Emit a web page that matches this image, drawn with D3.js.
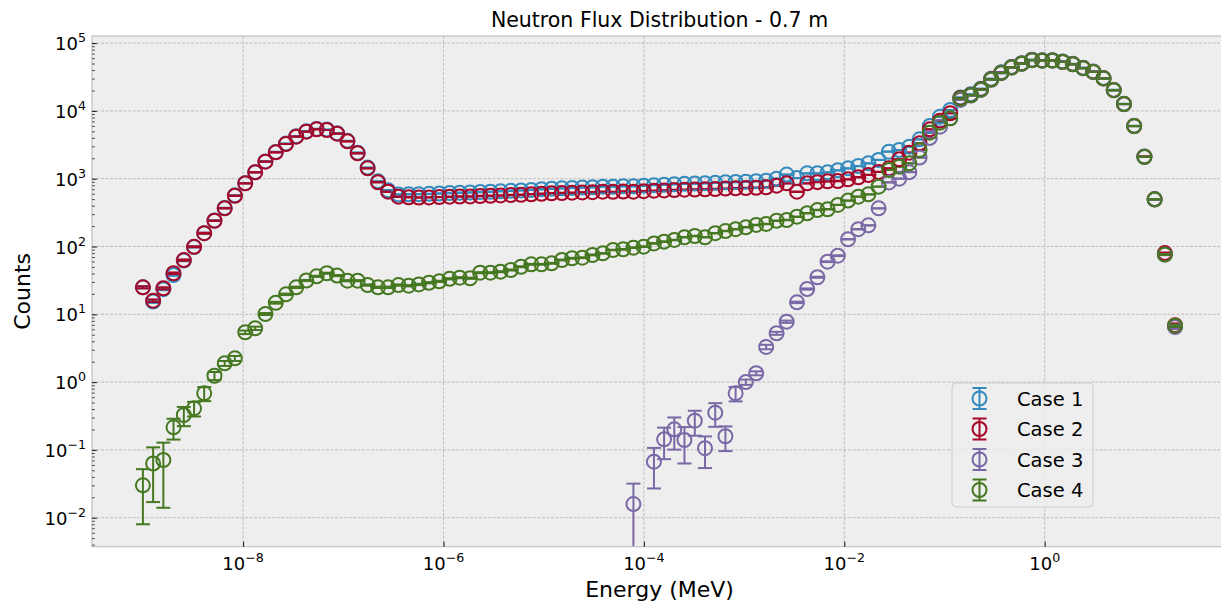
<!DOCTYPE html>
<html><head><meta charset="utf-8">
<script src="https://cdn.jsdelivr.net/npm/d3@7"></script>
<style>body{margin:0;background:#fff;} svg{display:block;font-family:"DejaVu Sans",sans-serif;}</style>
</head><body><svg id="c" width="1221" height="601"></svg>
<script>
// ---------- DATA ----------
const energies = [
1.00e-9,1.265e-9,1.60e-9,2.02e-9,2.56e-9,3.24e-9,4.09e-9,5.18e-9,6.55e-9,8.28e-9,
1.05e-8,1.32e-8,1.67e-8,2.12e-8,2.68e-8,3.39e-8,4.28e-8,5.42e-8,6.85e-8,8.67e-8,
1.10e-7,1.39e-7,1.75e-7,2.22e-7,2.80e-7,3.55e-7,4.49e-7,5.67e-7,7.17e-7,9.07e-7,
1.15e-6,1.45e-6,1.84e-6,2.32e-6,2.94e-6,3.71e-6,4.70e-6,5.94e-6,7.51e-6,9.50e-6,
1.20e-5,1.52e-5,1.92e-5,2.43e-5,3.07e-5,3.89e-5,4.92e-5,6.22e-5,7.86e-5,9.94e-5,
1.26e-4,1.59e-4,2.01e-4,2.54e-4,3.22e-4,4.07e-4,5.15e-4,6.51e-4,8.23e-4,1.04e-3,
1.32e-3,1.66e-3,2.11e-3,2.66e-3,3.37e-3,4.26e-3,5.39e-3,6.81e-3,8.62e-3,1.09e-2,
1.38e-2,1.74e-2,2.20e-2,2.79e-2,3.53e-2,4.46e-2,5.64e-2,7.13e-2,9.02e-2,0.114,
0.144,0.183,0.231,0.292,0.369,0.467,0.590,0.747,0.944,1.194,
1.510,1.910,2.416,3.055,3.864,4.888,6.181,7.818,9.888,12.51,
15.82,20.0];

const case1 = [
25,15.4,23.5,38,62,98,157,242,370,568,
860,1250,1800,2480,3300,4230,5000,5420,5300,4680,
3620,2420,1460,915,675,585,590,592,598,605,
615,620,626,636,642,652,663,672,684,698,
712,720,732,740,748,764,763,775,772,788,
803,815,828,840,848,858,868,884,895,905,
918,935,1000,1150,1020,1200,1200,1240,1330,1423,
1538,1686,1888,2500,2650,2965,3810,5990,8200,10300,
15800,17600,21200,29800,37000,44500,50500,57000,56000,56000,
53500,49400,43300,38000,30500,20400,12700,6020,2120,500,
78,6.7];

const case2 = [
25,15.9,24.2,40.3,63,99,157,240,366,561,
855,1242,1782,2450,3250,4170,4940,5350,5230,4610,
3560,2370,1423,885,643,543,532,528,530,535,
543,545,548,556,560,566,575,580,590,600,
610,615,622,628,632,643,640,648,643,655,
665,672,681,688,692,698,705,715,722,728,
735,746,790,855,643,855,890,915,925,980,
1050,1135,1260,1423,1930,2417,3325,5350,7170,9220,
15500,17200,20800,29300,36600,44000,50000,56500,55500,55500,
53000,49000,43000,37800,30300,20300,12650,5990,2110,497,
80,6.9];

const case3 = [
null,null,null,null,null,null,null,null,null,null,
null,null,null,null,null,null,null,null,null,null,
null,null,null,null,null,null,null,null,null,null,
null,null,null,null,null,null,null,null,null,null,
null,null,null,null,null,null,null,null,0.0159,null,
0.067,0.143,0.201,0.140,0.270,0.106,0.354,0.159,0.684,1.00,
1.35,3.30,5.25,7.78,15.0,23.6,35.2,59.7,73.2,128,
180,205,366,880,1000,1250,2050,4000,5850,7780,
14500,16800,20400,28800,36000,43500,49500,55800,55000,55000,
52600,48600,42500,37400,30000,20100,12550,5950,2090,492,
76,6.5];

const case4 = [
0.030,0.063,0.071,0.215,0.327,0.411,0.684,1.24,1.89,2.24,
5.43,6.22,10.1,14.8,19.7,25.0,31.5,36.3,40.3,37.3,
31.3,31.3,27.0,25.0,25.0,27.0,26.4,27.6,29.2,30.6,
33.4,34.7,34.0,41.1,41.1,42.5,45.0,50.3,54.6,54.6,
56.5,63.2,67.0,68.4,75.0,79.4,88.8,91.0,96.0,99.4,
111,118,125,137,143,137,157,169,180,192,
208,215,240,246,275,309,345,354,410,475,
543,589,762,1343,1503,1686,2650,4770,6700,7780,
15200,17000,20600,29000,36300,43700,49800,56000,55000,55300,
52800,48800,42700,37600,30100,20200,12600,5970,2100,495,
76,6.8];

const case1Err = [
0.9,0.7,0.85,1.1,1.4,1.7,2.2,2.7,3.3,4.1,
5.1,6.1,7.3,8.6,9.9,11,12,13,12.5,12,
10,8.4,6.5,5.2,4.4,4.2,4.2,4.2,4.2,4.3,
4.3,4.3,4.3,4.4,4.4,4.4,4.5,4.5,4.5,4.6,
4.6,4.6,4.7,4.7,4.7,4.8,4.8,4.8,4.8,4.9,
4.9,4.9,5.0,5.0,5.0,5.1,5.1,5.1,5.2,5.2,
5.2,5.3,5.5,5.9,5.5,6.0,6.0,6.1,6.3,6.5,
6.8,7.1,7.5,8.7,8.9,9.4,10.7,13.4,15.7,17.6,
22,23,25,30,33,36,39,41,41,41,
40,38,36,34,30,25,19,13,8,3.9,
1.5,0.45];

const case2Err = [
0.9,0.7,0.85,1.1,1.4,1.7,2.2,2.7,3.3,4.1,
5.1,6.1,7.3,8.6,9.9,11,12,13,12.5,12,
10,8.4,6.5,5.2,4.4,4.0,4.0,4.0,4.0,4.0,
4.0,4.0,4.1,4.1,4.1,4.1,4.2,4.2,4.2,4.2,
4.3,4.3,4.3,4.3,4.4,4.4,4.4,4.4,4.4,4.4,
4.5,4.5,4.5,4.5,4.6,4.6,4.6,4.6,4.7,4.7,
4.7,4.7,4.9,5.1,4.4,5.1,5.2,5.2,5.3,5.4,
5.6,5.8,6.1,6.5,7.6,8.5,10,13,15,17,
22,23,25,30,33,36,39,41,41,41,
40,38,36,34,30,25,19,13,8,3.9,
1.5,0.45];

const case3Err = [
null,null,null,null,null,null,null,null,null,null,
null,null,null,null,null,null,null,null,null,null,
null,null,null,null,null,null,null,null,null,null,
null,null,null,null,null,null,null,null,null,null,
null,null,null,null,null,null,null,null,0.0159,null,
0.040,0.07,0.10,0.077,0.108,0.052,0.135,0.063,0.165,0.09,
0.09,0.25,0.27,0.30,0.38,0.5,0.6,0.8,0.9,1.2,
1.4,1.5,2.0,3.1,3.3,3.7,4.7,6.6,8.0,9.2,
20,22,24,28,32,36,38,40,40,40,
39,37,35,33,29,24,19,13,8,3.9,
1.5,0.45];

const case4Err = [
0.022,0.046,0.057,0.073,0.103,0.10,0.16,0.17,0.16,0.19,
0.32,0.35,0.34,0.45,0.5,0.6,0.65,0.7,0.75,0.72,
0.65,0.65,0.6,0.58,0.58,0.6,0.6,0.6,0.62,0.64,
0.67,0.68,0.68,0.74,0.74,0.75,0.78,0.82,0.85,0.85,
0.87,0.92,0.95,0.96,1.0,1.03,1.1,1.1,1.13,1.15,
1.2,1.25,1.28,1.35,1.38,1.35,1.45,1.5,1.55,1.6,
1.65,1.7,1.8,1.8,1.9,2.0,2.1,2.2,2.3,2.5,
2.7,2.8,3.2,4.2,4.5,4.7,6,8.0,9.5,10.3,
14,15.2,16.5,19.5,22,24,26,27,27,27,
26.5,25,23,22,20,16,12,8,5,2.6,
1.0,0.3];

const seriesNames = ["Case 1","Case 2","Case 3","Case 4"];
const xTickValues = [1e-8,1e-6,1e-4,1e-2,1];
const xTickExponents = ["\u22128","\u22126","\u22124","\u22122","0"];
const yTickValues = [1e-2,1e-1,1,10,100,1000,1e4,1e5];
const yTickExponents = ["\u22122","\u22121","0","1","2","3","4","5"];
const titleText = "Neutron Flux Distribution - 0.7 m";
const xLabelText = "Energy (MeV)";
const yLabelText = "Counts";

// ---------- STYLE / LAYOUT ----------
const colors = ["#348ABD","#A60628","#7A68A6","#467821"];
const W = 1221, H = 601;
const L = 92, R = 1221, T = 36, B = 546.7;
const svg = d3.select("#c");

const x = d3.scaleLog().domain([Math.pow(10,-9.508), Math.pow(10,1.7595)]).range([L, R]);
const y = d3.scaleLog().domain([Math.pow(10,-2.4277), Math.pow(10,5.1047)]).range([B, T]);

// background
svg.append("rect").attr("x",0).attr("y",0).attr("width",W).attr("height",H).attr("fill","#ffffff");
svg.append("rect").attr("x",L).attr("y",T).attr("width",R-L+10).attr("height",B-T).attr("fill","#eeeeee");

svg.append("clipPath").attr("id","clip").append("rect").attr("x",L).attr("y",T).attr("width",R-L+10).attr("height",B-T);

// grid
const grid = svg.append("g");
grid.selectAll("line.gx").data(xTickValues).join("line")
  .attr("x1",d=>x(d)).attr("x2",d=>x(d)).attr("y1",T).attr("y2",B)
  .attr("stroke","#b2b2b2").attr("stroke-width",0.8).attr("stroke-dasharray","3,1.5");
grid.selectAll("line.gy").data(yTickValues).join("line")
  .attr("x1",L).attr("x2",R+10).attr("y1",d=>y(d)).attr("y2",d=>y(d))
  .attr("stroke","#b2b2b2").attr("stroke-width",0.8).attr("stroke-dasharray","3,1.5");

// data
const series = seriesNames.map((n,k)=>({name:n, color:colors[k],
  values:[case1,case2,case3,case4][k], errors:[case1Err,case2Err,case3Err,case4Err][k]}));

const plot = svg.append("g").attr("clip-path","url(#clip)");
const capW = 7;
series.forEach(s=>{
  const pts = energies.map((e,i)=>({e, v:s.values[i], err:s.errors[i]})).filter(d=>d.v!=null);
  const g = plot.append("g");
  g.selectAll("line.bar").data(pts).join("line")
    .attr("x1",d=>x(d.e)).attr("x2",d=>x(d.e))
    .attr("y1",d=> d.v-d.err>0 ? y(d.v-d.err) : B+10)
    .attr("y2",d=>y(d.v+d.err))
    .attr("stroke",s.color).attr("stroke-width",2);
  g.selectAll("line.capu").data(pts).join("line")
    .attr("x1",d=>x(d.e)-capW).attr("x2",d=>x(d.e)+capW)
    .attr("y1",d=>y(d.v+d.err)).attr("y2",d=>y(d.v+d.err))
    .attr("stroke",s.color).attr("stroke-width",2);
  g.selectAll("line.capl").data(pts.filter(d=>d.v-d.err>0)).join("line")
    .attr("x1",d=>x(d.e)-capW).attr("x2",d=>x(d.e)+capW)
    .attr("y1",d=>y(d.v-d.err)).attr("y2",d=>y(d.v-d.err))
    .attr("stroke",s.color).attr("stroke-width",2);
});
series.forEach(s=>{
  const pts = energies.map((e,i)=>({e, v:s.values[i]})).filter(d=>d.v!=null);
  plot.append("g").selectAll("circle").data(pts).join("circle")
    .attr("cx",d=>x(d.e)).attr("cy",d=>y(d.v)).attr("r",7)
    .attr("fill","none").attr("stroke",s.color).attr("stroke-width",2);
});

// frame
svg.append("rect").attr("x",L).attr("y",T).attr("width",R-L+10).attr("height",B-T)
  .attr("fill","none").attr("stroke","#bcbcbc").attr("stroke-width",1.1);

// axes ticks (inward)
const xAxisG = svg.append("g").attr("transform",`translate(0,${B})`)
  .call(d3.axisBottom(x).tickValues(xTickValues).tickSizeInner(-4.9).tickSizeOuter(0).tickFormat(""));
xAxisG.select(".domain").remove();
xAxisG.selectAll(".tick line").attr("stroke","#222").attr("stroke-width",1.1);

const yMinor = y.ticks().filter(v=>!yTickValues.some(t=>Math.abs(Math.log10(t)-Math.log10(v))<1e-6));
const yAxisMinor = svg.append("g").attr("transform",`translate(${L},0)`)
  .call(d3.axisLeft(y).tickValues(yMinor).tickSizeInner(-2.8).tickSizeOuter(0).tickFormat(""));
yAxisMinor.select(".domain").remove();
yAxisMinor.selectAll(".tick line").attr("stroke","#222").attr("stroke-width",0.8);
const yAxisG = svg.append("g").attr("transform",`translate(${L},0)`)
  .call(d3.axisLeft(y).tickValues(yTickValues).tickSizeInner(-4.9).tickSizeOuter(0).tickFormat(""));
yAxisG.select(".domain").remove();
yAxisG.selectAll(".tick line").attr("stroke","#222").attr("stroke-width",1.1);

// tick labels
const fs = 18;
xTickValues.forEach((v,i)=>{
  const t = svg.append("text").attr("x",x(v)).attr("y",570).attr("text-anchor","middle")
    .attr("font-size",fs).attr("fill","#000");
  t.append("tspan").text("10");
  t.append("tspan").attr("dy",-8).attr("font-size",fs*0.7).text(xTickExponents[i]);
});
yTickValues.forEach((v,i)=>{
  const t = svg.append("text").attr("x",86).attr("y",y(v)+7).attr("text-anchor","end")
    .attr("font-size",fs).attr("fill","#000");
  t.append("tspan").text("10");
  t.append("tspan").attr("dy",-8).attr("font-size",fs*0.7).text(yTickExponents[i]);
});

// titles
svg.append("text").attr("x",(L+1227)/2).attr("y",27).attr("text-anchor","middle")
  .attr("font-size",20.5).attr("fill","#000").text(titleText);
svg.append("text").attr("x",(L+1227)/2).attr("y",597).attr("text-anchor","middle")
  .attr("font-size",22).attr("fill","#000").text(xLabelText);
svg.append("text").attr("transform",`translate(30,${(T+B)/2}) rotate(-90)`).attr("text-anchor","middle")
  .attr("font-size",22).attr("fill","#000").text(yLabelText);

// legend
const lg = svg.append("g");
lg.append("rect").attr("x",952).attr("y",383).attr("width",141).attr("height",124).attr("rx",4)
  .attr("fill","#eeeeee").attr("fill-opacity",0.8).attr("stroke","#cccccc").attr("stroke-width",1);
series.forEach((s,k)=>{
  const cy = 398.5 + k*30.5, cx = 979.5;
  lg.append("line").attr("x1",cx).attr("x2",cx).attr("y1",cy-10.5).attr("y2",cy+10.5).attr("stroke",s.color).attr("stroke-width",2);
  lg.append("line").attr("x1",cx-capW).attr("x2",cx+capW).attr("y1",cy-10.5).attr("y2",cy-10.5).attr("stroke",s.color).attr("stroke-width",2);
  lg.append("line").attr("x1",cx-capW).attr("x2",cx+capW).attr("y1",cy+10.5).attr("y2",cy+10.5).attr("stroke",s.color).attr("stroke-width",2);
  lg.append("circle").attr("cx",cx).attr("cy",cy).attr("r",7).attr("fill","none").attr("stroke",s.color).attr("stroke-width",2);
  lg.append("text").attr("x",1017).attr("y",cy+7).attr("font-size",19.5).attr("fill","#000").text(s.name);
});
</script></body></html>
